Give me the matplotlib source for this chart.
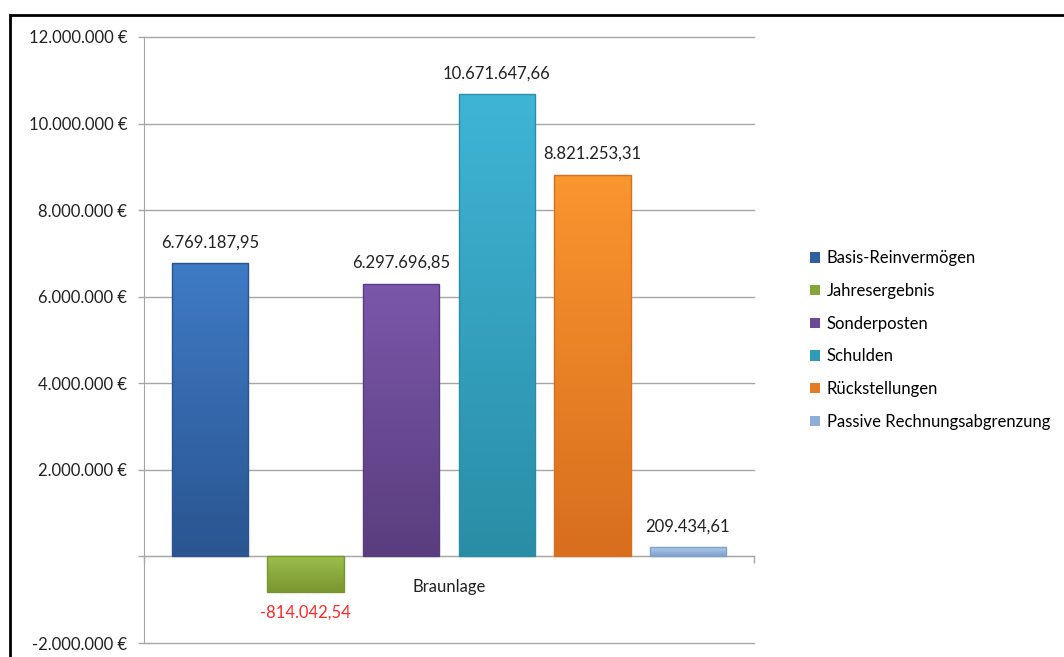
import matplotlib
matplotlib.use("Agg")
import matplotlib.pyplot as plt
from matplotlib.patches import Rectangle
from matplotlib.colors import LinearSegmentedColormap
import numpy as np

plt.rcParams['font.family'] = ['Lato', 'DejaVu Sans']

categories = ["Basis-Reinvermögen", "Jahresergebnis", "Sonderposten",
              "Schulden", "Rückstellungen", "Passive Rechnungsabgrenzung"]
values = [6769187.95, -814042.54, 6297696.85, 10671647.66, 8821253.31, 209434.61]
group_label = "Braunlage"
yticks = [-2000000, 0, 2000000, 4000000, 6000000, 8000000, 10000000, 12000000]

# light (top) / dark (bottom) colour of each bar
top_colors = ["#3f7bc6", "#9dbd4c", "#7b57aa", "#3fb5d6", "#f8962f", "#b8d0ee"]
bot_colors = ["#2a5590", "#7a9630", "#5a3d7e", "#2a8da6", "#d86e1e", "#7f9fcc"]
legend_colors = ["#2f5f9f", "#86a63a", "#6a4a94", "#2f9bb6", "#e67c22", "#8eadd8"]


def fmt_de(v, dec=2):
    s = f"{abs(v):,.{dec}f}"
    s = s.replace(",", "X").replace(".", ",").replace("X", ".")
    return ("-" if v < 0 else "") + s


fig = plt.figure(figsize=(10.64, 6.57), dpi=100)
ax = fig.add_axes([0.1353, 0.0213, 0.5733, 0.9224])

x = np.arange(len(values))
bars = ax.bar(x, values, width=0.8, color="none", edgecolor="none", zorder=3)

grad = np.linspace(0, 1, 256).reshape(-1, 1)
for b, v, c1, c2 in zip(bars, values, top_colors, bot_colors):
    cmap = LinearSegmentedColormap.from_list("g", [c2, c1])
    x0 = b.get_x()
    x1 = x0 + b.get_width()
    y0 = min(0, v)
    y1 = max(0, v)
    im = ax.imshow(grad, extent=[x0, x1, y0, y1], origin="lower", cmap=cmap,
                   aspect="auto", zorder=3, interpolation="bicubic")
    im.set_clip_path(b)
    # thin darker outline, like the bevel in the original
    ax.add_patch(Rectangle((x0, y0), x1 - x0, y1 - y0, fill=False,
                           edgecolor=c2, lw=1.0, zorder=4))
    # value labels
    if v >= 0:
        ax.text(b.get_x() + b.get_width() / 2, v + 300000, fmt_de(v),
                ha="center", va="bottom", fontsize=12, color="#222222", zorder=5)
    else:
        ax.text(b.get_x() + b.get_width() / 2, v - 300000, fmt_de(v),
                ha="center", va="top", fontsize=12, color="#ff2a2a", zorder=5)

ax.set_xlim(-0.69, 5.69)
ax.set_ylim(-2000000, 12000000)
ax.set_yticks(yticks)
ax.set_yticklabels(["" if t == 0 else fmt_de(t, 0) + " €" for t in yticks],
                   fontsize=12, color="#222222")
ax.yaxis.grid(True, color="#a6a6a6", lw=1.0, zorder=0)
for gl in ax.yaxis.get_gridlines():
    gl.set_clip_on(False)
ax.set_axisbelow(True)
ax.tick_params(axis="y", length=4, color="#a6a6a6", width=1.0, pad=8)

for s in ["top", "right"]:
    ax.spines[s].set_visible(False)
ax.spines["left"].set_color("#a6a6a6")
ax.spines["bottom"].set_position(("data", 0))
ax.spines["bottom"].set_color("#a6a6a6")
ax.set_xticks([-0.69, 5.69])
ax.set_xticklabels(["", ""])
ax.tick_params(axis="x", length=5, color="#a6a6a6", width=1.0)
ax.text(2.5, -700000, group_label, ha="center", va="center", fontsize=12,
        color="#222222")

handles = [Rectangle((0, 0), 1, 1, facecolor=c, edgecolor="none") for c in legend_colors]
fig.legend(handles, categories, loc="upper left", bbox_to_anchor=(0.755, 0.629),
           frameon=False, fontsize=12, handlelength=0.6, handleheight=0.6,
           handletextpad=0.4, labelspacing=1.0, borderaxespad=0)

# black chart frame (cut off at the right and bottom)
fig.add_artist(Rectangle((10 / 1064, -0.05), 1.2, 1 - 15 / 657 + 0.05,
                         transform=fig.transFigure, fill=False,
                         edgecolor="black", lw=2.0))

fig.savefig("out.png", dpi=100)
